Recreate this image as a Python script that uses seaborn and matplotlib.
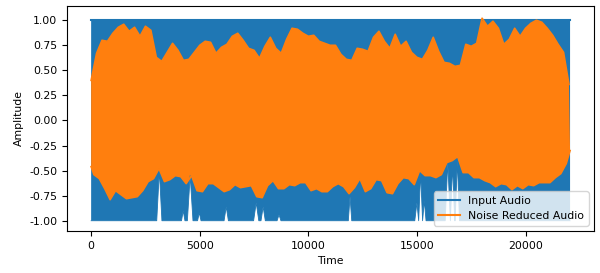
import numpy as np
import pandas as pd
import matplotlib
matplotlib.use("Agg")
import matplotlib.pyplot as plt
import seaborn as sns

# Envelope of the noise reduced waveform (sample index, amplitude)
peak_t = list(range(0, 22001, 250))
trough_t = [0] + list(range(125, 22000, 250)) + [22050]

nr_peaks = [0.40, 0.67, 0.80, 0.79, 0.87, 0.93, 0.96, 0.89, 0.93, 0.84,
            0.94, 0.90, 0.63, 0.59, 0.68, 0.77, 0.70, 0.60, 0.61, 0.68,
            0.75, 0.79, 0.78, 0.67, 0.73, 0.76, 0.84, 0.87, 0.80, 0.72,
            0.70, 0.62, 0.74, 0.83, 0.72, 0.67, 0.81, 0.92, 0.91, 0.87,
            0.84, 0.85, 0.79, 0.77, 0.75, 0.75, 0.66, 0.61, 0.60, 0.72,
            0.71, 0.69, 0.83, 0.89, 0.79, 0.72, 0.86, 0.74, 0.79, 0.68,
            0.63, 0.61, 0.70, 0.83, 0.69, 0.58, 0.57, 0.54, 0.55, 0.76,
            0.74, 0.77, 1.02, 0.94, 0.99, 0.92, 0.76, 0.81, 0.92, 0.84,
            0.92, 0.97, 1.00, 0.98, 0.92, 0.85, 0.76, 0.68, 0.36]

nr_troughs = [-0.46,
              -0.54, -0.58, -0.68, -0.79, -0.70, -0.74, -0.78, -0.77, -0.76, -0.70,
              -0.61, -0.58, -0.48, -0.61, -0.59, -0.55, -0.56, -0.63, -0.55, -0.70,
              -0.71, -0.63, -0.63, -0.67, -0.71, -0.69, -0.64, -0.67, -0.66, -0.65,
              -0.76, -0.77, -0.65, -0.60, -0.68, -0.68, -0.64, -0.65, -0.62, -0.62,
              -0.70, -0.68, -0.71, -0.71, -0.66, -0.63, -0.66, -0.73, -0.67, -0.58,
              -0.71, -0.68, -0.59, -0.60, -0.72, -0.73, -0.63, -0.57, -0.58, -0.64,
              -0.50, -0.55, -0.55, -0.57, -0.54, -0.42, -0.40, -0.36, -0.52, -0.52,
              -0.57, -0.57, -0.60, -0.62, -0.66, -0.63, -0.64, -0.69, -0.65, -0.68,
              -0.64, -0.65, -0.62, -0.62, -0.62, -0.57, -0.53, -0.43, -0.30]

# Input audio is clipped at +1 / -1, apart from a few narrow gaps at the bottom
in_top_t = [0, 22050]
in_top = [1.0, 1.0]
in_low_t = [0, 3020, 3140, 3260, 4160, 4240, 4320, 4430, 4560, 4690,
            4900, 4980, 5060, 6120, 6220, 6320, 7480, 7600, 7720, 7820,
            7920, 8020, 8560, 8650, 8740, 11840, 11920, 12000, 14900, 15000,
            15080, 15080, 15170, 15260, 15260, 15340, 15420, 16300, 16420, 16540,
            16540, 16640, 16740, 16760, 16860, 16960, 22050]
in_low = [-1.0, -1.0, -0.50, -1.0, -1.0, -0.90, -1.0, -1.0, -0.55, -1.0,
          -1.0, -0.92, -1.0, -1.0, -0.86, -1.0, -1.0, -0.82, -1.0, -1.0,
          -0.86, -1.0, -1.0, -0.94, -1.0, -1.0, -0.76, -1.0, -1.0, -0.82,
          -1.0, -1.0, -0.52, -1.0, -1.0, -0.80, -1.0, -1.0, -0.42, -1.0,
          -1.0, -0.45, -1.0, -1.0, -0.40, -1.0, -1.0]

blue = "#1f77b4"
orange = "#ff7f0e"

plt.rcParams["font.size"] = 7.8

fig = plt.figure(figsize=(6, 2.73), dpi=100)
ax = fig.add_axes([0.112, 0.154, 0.878, 0.824])

# Input audio
ax.fill(in_top_t + in_low_t[::-1], in_top + in_low[::-1], color=blue, lw=0)
sns.lineplot(x=in_top_t, y=in_top, ax=ax, color=blue, linewidth=1.5, label="Input Audio")
sns.lineplot(x=in_low_t, y=in_low, ax=ax, color=blue, linewidth=0.6, sort=False)

# Noise reduced audio
ax.fill(peak_t + trough_t[::-1], nr_peaks + nr_troughs[::-1], color=orange, lw=0)
sns.lineplot(x=peak_t, y=nr_peaks, ax=ax, color=orange, linewidth=1.2,
             label="Noise Reduced Audio")
sns.lineplot(x=trough_t, y=nr_troughs, ax=ax, color=orange, linewidth=1.2)

ax.set_xticks([0, 5000, 10000, 15000, 20000])
ax.set_yticks([-1.0, -0.75, -0.5, -0.25, 0.0, 0.25, 0.5, 0.75, 1.0])
ax.yaxis.set_major_formatter(matplotlib.ticker.FormatStrFormatter("%.2f"))
ax.set_xlim(-1102, 23152)
ax.set_ylim(-1.102, 1.142)
ax.set_xlabel("Time")
ax.set_ylabel("Amplitude")
leg = ax.legend(loc="lower right")
for line in leg.get_lines():
    line.set_linewidth(1.5)

fig.savefig("out.png", dpi=100)
